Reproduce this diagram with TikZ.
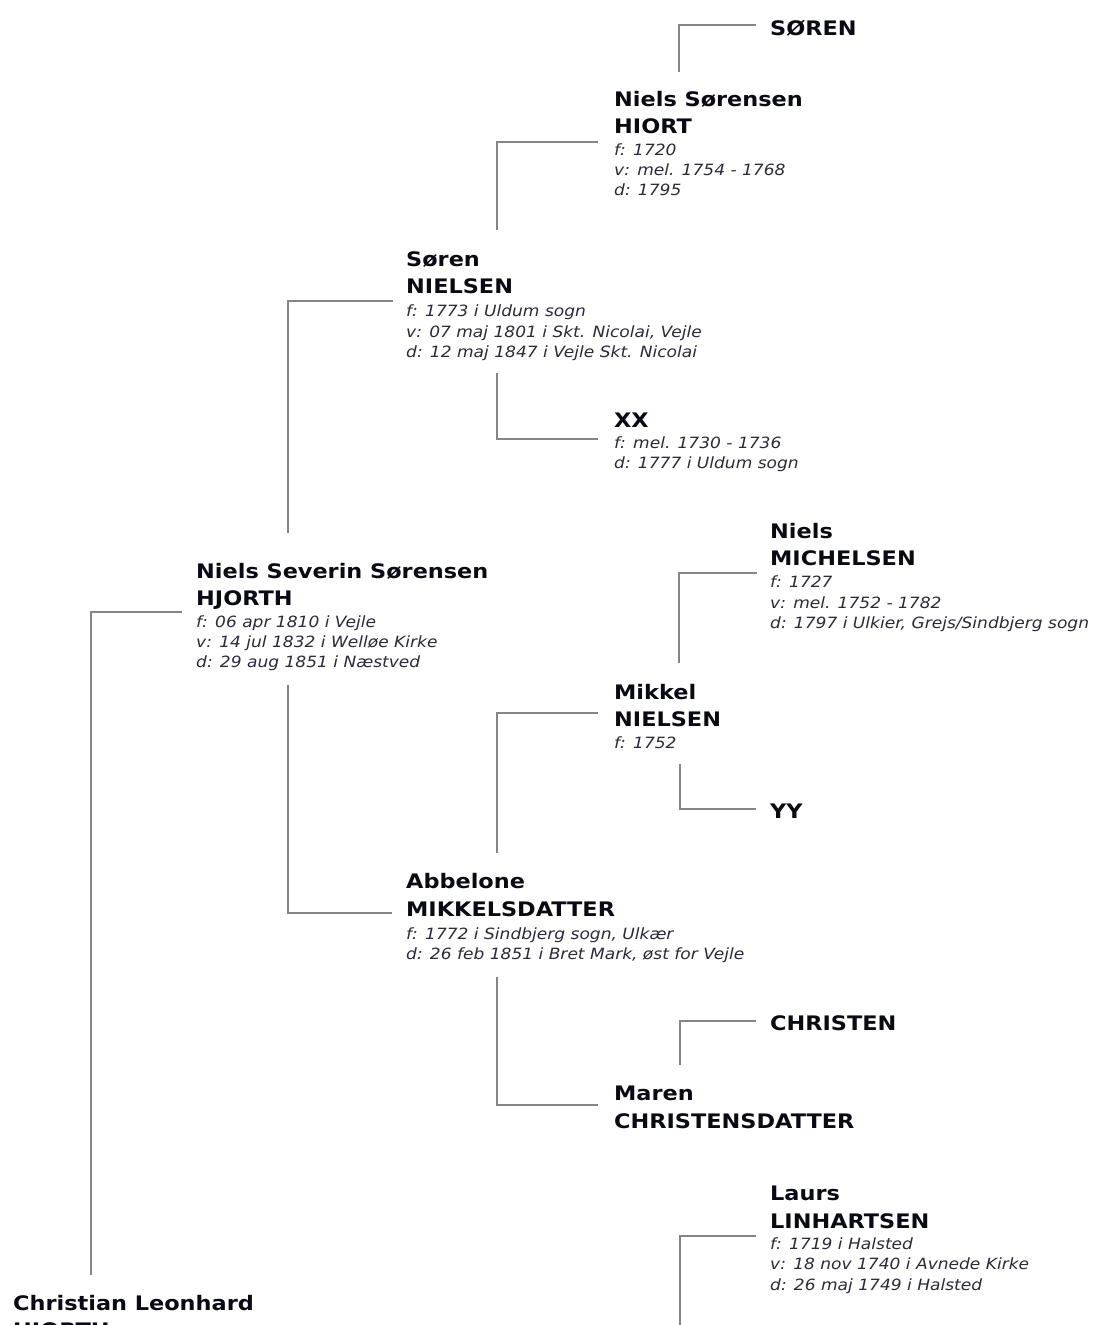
\documentclass[tikz,border=0pt]{standalone}
\usepackage{fontspec}
\newfontfamily\namefam[FakeStretch=1.12]{DejaVu Sans}
\newfontfamily\detfam[FakeStretch=1.10]{DejaVu Sans}
\newcommand\namefont{\namefam\bfseries\fontsize{20}{24}\selectfont}
\newcommand\detfont{\detfam\itshape\fontsize{15.5}{19}\selectfont}
\definecolor{linec}{HTML}{858585}
\definecolor{detc}{HTML}{2A2A3A}
\definecolor{namec}{HTML}{0A0A14}
\tikzset{
  nm/.style={anchor=base west, inner sep=0pt, font=\namefont, text=namec},
  dt/.style={anchor=base west, inner sep=0pt, font=\detfont, text=detc},
  conn/.style={draw=linec, line width=1.3pt}
}
\begin{document}
\begin{tikzpicture}[x=1pt,y=-1pt]
\clip (0,0) rectangle (1093,1325);
\fill[white] (0,0) rectangle (1093,1325);

% SØREN
\node[nm] (sor) at (770,35) {SØREN};

% Niels Sørensen HIORT
\node[nm] (nsh1) at (614,106) {Niels Sørensen};
\node[nm] (nsh2) at (614,133) {HIORT};
\node[dt] (nshf) at (614,155) {f: 1720};
\node[dt] (nshv) at (614,175) {v: mel. 1754 - 1768};
\node[dt] (nshd) at (614,195) {d: 1795};

% Søren NIELSEN
\node[nm] (sn1) at (406,266) {Søren};
\node[nm] (sn2) at (406,293) {NIELSEN};
\node[dt] (snf) at (406,316) {f: 1773 i Uldum sogn};
\node[dt] (snv) at (406,337) {v: 07 maj 1801 i Skt. Nicolai, Vejle};
\node[dt] (snd) at (406,357) {d: 12 maj 1847 i Vejle Skt. Nicolai};

% XX
\node[nm] (xx) at (614,427) {XX};
\node[dt] (xxf) at (614,448) {f: mel. 1730 - 1736};
\node[dt] (xxd) at (614,468) {d: 1777 i Uldum sogn};

% Niels Severin Sørensen HJORTH
\node[nm] (nss1) at (196,578) {Niels Severin Sørensen};
\node[nm] (nss2) at (196,605) {HJORTH};
\node[dt] (nssf) at (196,627) {f: 06 apr 1810 i Vejle};
\node[dt] (nssv) at (196,647) {v: 14 jul 1832 i Welløe Kirke};
\node[dt] (nssd) at (196,667) {d: 29 aug 1851 i Næstved};

% Niels MICHELSEN
\node[nm] (nm1) at (770,538) {Niels};
\node[nm] (nm2) at (770,565) {MICHELSEN};
\node[dt] (nmf) at (770,587) {f: 1727};
\node[dt] (nmv) at (770,608) {v: mel. 1752 - 1782};
\node[dt] (nmd) at (770,628) {d: 1797 i Ulkier, Grejs/Sindbjerg sogn};

% Mikkel NIELSEN
\node[nm] (mn1) at (614,699) {Mikkel};
\node[nm] (mn2) at (614,726) {NIELSEN};
\node[dt] (mnf) at (614,748) {f: 1752};

% YY
\node[nm] (yy) at (770,818) {YY};

% Abbelone MIKKELSDATTER
\node[nm] (am1) at (406,888) {Abbelone};
\node[nm] (am2) at (406,916) {MIKKELSDATTER};
\node[dt] (amf) at (406,939) {f: 1772 i Sindbjerg sogn, Ulkær};
\node[dt] (amd) at (406,959) {d: 26 feb 1851 i Bret Mark, øst for Vejle};

% CHRISTEN
\node[nm] (chr) at (770,1030) {CHRISTEN};

% Maren CHRISTENSDATTER
\node[nm] (mc1) at (614,1100) {Maren};
\node[nm] (mc2) at (614,1128) {CHRISTENSDATTER};

% Laurs LINHARTSEN
\node[nm] (ll1) at (770,1200) {Laurs};
\node[nm] (ll2) at (770,1228) {LINHARTSEN};
\node[dt] (llf) at (770,1249) {f: 1719 i Halsted};
\node[dt] (llv) at (770,1269) {v: 18 nov 1740 i Avnede Kirke};
\node[dt] (lld) at (770,1290) {d: 26 maj 1749 i Halsted};

% Christian Leonhard HJORTH
\node[nm] (cl1) at (13,1310) {Christian Leonhard};
\node[nm] (cl2) at (13,1337) {HJORTH};

% connectors (named ends)
\coordinate (k1a) at (679,72);   \coordinate (k1b) at (756,25);
\coordinate (k2a) at (497,230);  \coordinate (k2b) at (598,142);
\coordinate (k3a) at (288,533);  \coordinate (k3b) at (393,301);
\coordinate (k4a) at (497,373);  \coordinate (k4b) at (598,439);
\coordinate (k5a) at (91,1275);  \coordinate (k5b) at (182,612);
\coordinate (k6a) at (288,685);  \coordinate (k6b) at (392,913);
\coordinate (k7a) at (679,663);  \coordinate (k7b) at (757,573);
\coordinate (k8a) at (497,853);  \coordinate (k8b) at (598,713);
\coordinate (k9a) at (680,764);  \coordinate (k9b) at (756,809);
\coordinate (k10a) at (497,977); \coordinate (k10b) at (598,1105);
\coordinate (k11a) at (680,1065);\coordinate (k11b) at (756,1021);
\coordinate (k12a) at (680,1330);\coordinate (k12b) at (756,1236);

\draw[conn] (k1a) |- (k1b);
\draw[conn] (k2a) |- (k2b);
\draw[conn] (k3a) |- (k3b);
\draw[conn] (k4a) |- (k4b);
\draw[conn] (k5a) |- (k5b);
\draw[conn] (k6a) |- (k6b);
\draw[conn] (k7a) |- (k7b);
\draw[conn] (k8a) |- (k8b);
\draw[conn] (k9a) |- (k9b);
\draw[conn] (k10a) |- (k10b);
\draw[conn] (k11a) |- (k11b);
\draw[conn] (k12a) |- (k12b);
\end{tikzpicture}
\end{document}
